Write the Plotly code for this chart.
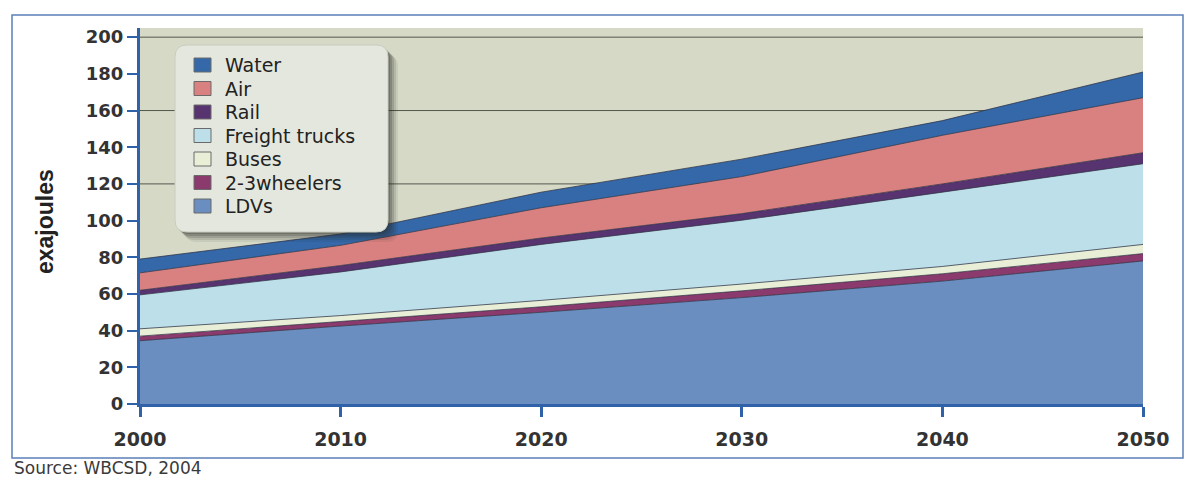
import plotly.graph_objects as go

# Transport energy use by mode, stacked (exajoules)
years = [2000, 2010, 2020, 2030, 2040, 2050]
ldvs = [34.5, 42.5, 50.0, 58.0, 67.0, 78.0]
two_three_wheelers = [2.5, 2.7, 3.0, 3.7, 4.0, 4.0]
buses = [4.0, 3.0, 3.5, 3.7, 4.0, 5.0]
freight_trucks = [18.5, 23.8, 30.5, 34.8, 40.5, 44.0]
rail = [2.5, 3.5, 3.5, 3.6, 4.5, 6.0]
air = [9.5, 11.0, 16.5, 20.2, 26.5, 30.0]
water = [7.5, 6.2, 8.5, 9.5, 8.0, 14.0]

series_names = ["LDVs", "2-3wheelers", "Buses", "Freight trucks", "Rail", "Air", "Water"]
series_values = [ldvs, two_three_wheelers, buses, freight_trucks, rail, air, water]
series_colors = ["#6b8ec0", "#8a3a6c", "#e9efd6", "#bddfe9", "#57336f", "#d98181", "#3468a8"]

y_ticks = list(range(0, 201, 20))
grid_levels = [120, 160, 200]

AXIS_BLUE = "#2f62a8"
TEXT = "#333333"
FONT = "DejaVu Sans, Verdana, sans-serif"

fig = go.Figure()

for name, vals, col in zip(series_names, series_values, series_colors):
    fig.add_trace(go.Scatter(
        x=years, y=vals, name=name, stackgroup="one", mode="lines",
        line=dict(color="rgba(45,50,70,0.75)", width=1),
        fillcolor=col, hoverinfo="x+y+name",
    ))

L, R, T, B = 140, 48, 28, 75
W, H = 1191, 479
pw, ph = W - L - R, H - T - B


def px_x(p):
    return (p - L) / pw


def px_y(p):
    return (H - B - p) / ph


def rounded_box(x0, y0, x1, y1, r):
    rx, ry = r / pw, r / ph
    a, b, c, d = px_x(x0), px_y(y0), px_x(x1), px_y(y1)
    return (f"M{a + rx},{b} L{c - rx},{b} Q{c},{b} {c},{b - ry} "
            f"L{c},{d + ry} Q{c},{d} {c - rx},{d} L{a + rx},{d} "
            f"Q{a},{d} {a},{d + ry} L{a},{b - ry} Q{a},{b} {a + rx},{b} Z")


shapes = []
annotations = []

# horizontal rules behind the areas
for g in grid_levels:
    shapes.append(dict(type="line", xref="paper", yref="y", x0=0, x1=1, y0=g, y1=g,
                       line=dict(color="#54574d", width=1), layer="below"))

# legend panel with soft drop shadow
for off, op in [(10, 0.08), (8, 0.12), (6, 0.16), (4, 0.20), (2, 0.22)]:
    shapes.append(dict(type="path", xref="paper", yref="paper",
                       path=rounded_box(175 + off, 45 + off, 388 + off, 232 + off, 12),
                       fillcolor=f"rgba(40,40,35,{op})", line=dict(width=0), layer="above"))
shapes.append(dict(type="path", xref="paper", yref="paper",
                   path=rounded_box(175, 45, 388, 232, 12),
                   fillcolor="#e4e7dd", line=dict(color="#c9ccc0", width=1), layer="above"))

# legend entries, top entry is the top of the stack
ITEM_TOP, ITEM_STEP = 65, 23.5
for i, (name, col) in enumerate(zip(reversed(series_names), reversed(series_colors))):
    cy = ITEM_TOP + i * ITEM_STEP
    shapes.append(dict(type="rect", xref="paper", yref="paper",
                       x0=px_x(194), x1=px_x(211), y0=px_y(cy + 7), y1=px_y(cy - 7),
                       fillcolor=col, line=dict(color="#6a6a6a", width=1), layer="above"))
    annotations.append(dict(text=name, xref="paper", yref="paper", x=px_x(223), y=px_y(cy),
                            showarrow=False, xanchor="left", yanchor="middle",
                            font=dict(family=FONT, size=19, color="#222222")))

# outer frame
shapes.append(dict(type="rect", xref="paper", yref="paper",
                   x0=px_x(12), x1=px_x(1183), y0=px_y(458), y1=px_y(15),
                   line=dict(color="#5b80b8", width=1.5), layer="below"))

annotations += [
    dict(text="exajoules", xref="paper", yref="paper", x=px_x(45), y=px_y(222),
         textangle=-90, showarrow=False, xanchor="center", yanchor="middle",
         font=dict(family="Liberation Sans Narrow, Arial Narrow, sans-serif",
                   size=23, color="#222222", weight="bold")),
    dict(text="Source: WBCSD, 2004", xref="paper", yref="paper", x=px_x(12), y=px_y(468),
         showarrow=False, xanchor="left", yanchor="middle",
         font=dict(family=FONT, size=17, color="#3a3a3a")),
]

fig.update_layout(
    width=W, height=H,
    margin=dict(l=L, r=R, t=T, b=B, pad=0),
    paper_bgcolor="white", plot_bgcolor="#d5d9c6",
    font=dict(family=FONT, color=TEXT),
    shapes=shapes,
    annotations=annotations,
    showlegend=False,
    xaxis=dict(
        range=[2000, 2050], tickvals=years, ticktext=[str(y) for y in years],
        showgrid=False, zeroline=False,
        showline=True, linecolor=AXIS_BLUE, linewidth=3,
        ticks="outside", ticklen=10, tickwidth=3, tickcolor=AXIS_BLUE,
        ticklabelstandoff=6,
        tickfont=dict(family=FONT, size=19, color=TEXT, weight="bold"),
    ),
    yaxis=dict(
        range=[0, 205], tickvals=y_ticks, showgrid=False, zeroline=False,
        showline=True, linecolor=AXIS_BLUE, linewidth=3,
        ticks="outside", ticklen=10, tickwidth=2, tickcolor=AXIS_BLUE,
        tickfont=dict(family=FONT, size=18, color=TEXT, weight="bold"),
    ),
)

fig.write_html("out.html")
